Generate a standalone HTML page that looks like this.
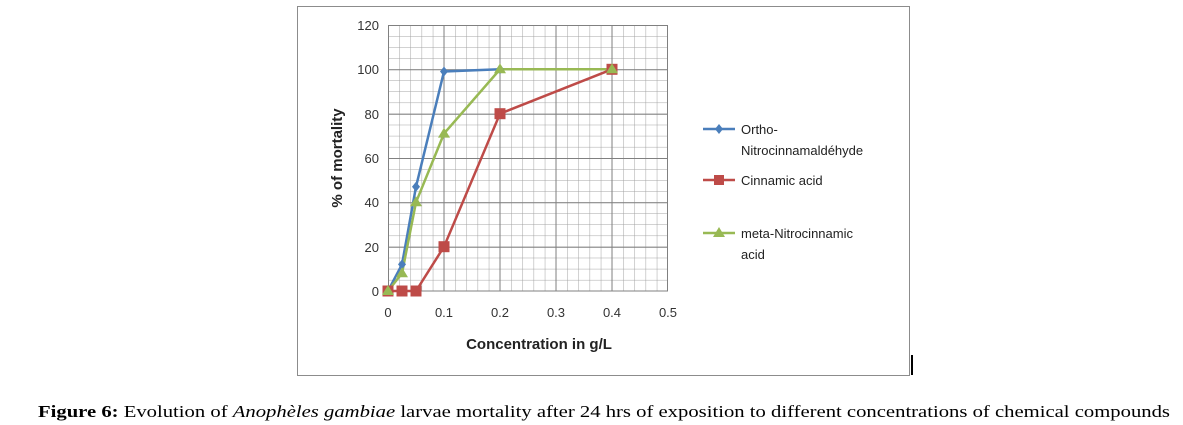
<!DOCTYPE html>
<html><head><meta charset="utf-8"><style>
body{margin:0;background:#fff;width:1183px;height:425px;overflow:hidden}
svg{display:block}
</style></head><body>
<svg width="1183" height="425" xmlns="http://www.w3.org/2000/svg" font-family="Liberation Sans, sans-serif">
<defs>
<pattern id="g" x="388" y="25" width="11.2" height="11.0833" patternUnits="userSpaceOnUse">
<path d="M0 0V11.0833M0 0H11.2" stroke="#a2a2a2" stroke-width="1" fill="none"/>
</pattern>
</defs>
<rect x="297.5" y="6.5" width="612" height="369" fill="#fff" stroke="#8c8c8c"/>
<rect x="911" y="355" width="2" height="20" fill="#000"/>
<rect x="388" y="25" width="280" height="266" fill="url(#g)"/>
<g stroke="#808080" stroke-width="1">
<path d="M388 25.5H668M388 69.8H668M388 114.2H668M388 158.5H668M388 202.8H668M388 247.2H668"/>
<path d="M444 25V291M500 25V291M556 25V291M612 25V291M667.5 25V291M388.5 25V291"/>
<path d="M388 291H668"/>
</g>
<g font-size="13" fill="#333" text-anchor="end">
<text x="379" y="30">120</text><text x="379" y="74">100</text><text x="379" y="119">80</text>
<text x="379" y="163">60</text><text x="379" y="207">40</text><text x="379" y="252">20</text><text x="379" y="296">0</text>
</g>
<g font-size="13" fill="#333" text-anchor="middle">
<text x="388" y="317">0</text><text x="444" y="317">0.1</text><text x="500" y="317">0.2</text>
<text x="556" y="317">0.3</text><text x="612" y="317">0.4</text><text x="668" y="317">0.5</text>
</g>
<text x="539" y="349" font-size="15" font-weight="bold" fill="#222" text-anchor="middle">Concentration in g/L</text>
<text transform="translate(342 158) rotate(-90)" font-size="15" font-weight="bold" fill="#222" text-anchor="middle">% of mortality</text>
<polyline points="388,291 402,264.4 416,186.8 444,71.5 500,69.3 612,69.3" fill="none" stroke="#4a7ebb" stroke-width="2.5"/>
<polyline points="388,291 402,291 416,291 444,246.7 500,113.7 612,69.3" fill="none" stroke="#be4b48" stroke-width="2.5"/>
<polyline points="388,291 402,273.3 416,202.3 444,133.6 500,69.3 612,69.3" fill="none" stroke="#98b954" stroke-width="2.5"/>
<g fill="#4a7ebb">
<path d="M388 286l4 5-4 5-4-5z"/><path d="M402 259.4l4 5-4 5-4-5z"/><path d="M416 181.8l4 5-4 5-4-5z"/><path d="M444 66.5l4 5-4 5-4-5z"/><path d="M500 64.3l4 5-4 5-4-5z"/>
</g>
<g fill="#be4b48">
<rect x="382.5" y="285.5" width="11" height="11"/><rect x="396.5" y="285.5" width="11" height="11"/><rect x="410.5" y="285.5" width="11" height="11"/>
<rect x="438.5" y="241.2" width="11" height="11"/><rect x="494.5" y="108.2" width="11" height="11"/><rect x="606.5" y="63.8" width="11" height="11"/>
</g>
<g fill="#98b954">
<path d="M388 285l6 10h-12z"/><path d="M402 267.3l6 10h-12z"/><path d="M416 196.3l6 10h-12z"/><path d="M444 127.6l6 10h-12z"/><path d="M500 63.3l6 10h-12z"/><path d="M612 63.3l6 10h-12z"/>
</g>
<line x1="703" y1="129" x2="735" y2="129" stroke="#4a7ebb" stroke-width="2.5"/><path d="M719 124l4 5-4 5-4-5z" fill="#4a7ebb"/>
<line x1="703" y1="180" x2="735" y2="180" stroke="#be4b48" stroke-width="2.5"/><rect x="714" y="175" width="10" height="10" fill="#be4b48"/>
<line x1="703" y1="233" x2="735" y2="233" stroke="#98b954" stroke-width="2.5"/><path d="M719 227l6 10h-12z" fill="#98b954"/>
<g font-size="13" fill="#222">
<text x="741" y="134">Ortho-</text><text x="741" y="155">Nitrocinnamaldéhyde</text>
<text x="741" y="185">Cinnamic acid</text>
<text x="741" y="238">meta-Nitrocinnamic</text><text x="741" y="259">acid</text>
</g>
<text x="38" y="417" font-family="Liberation Serif, serif" font-size="16.5" fill="#000" textLength="1132" lengthAdjust="spacingAndGlyphs"><tspan font-weight="bold">Figure 6:</tspan> Evolution of <tspan font-style="italic">Anophèles gambiae</tspan> larvae mortality after 24 hrs of exposition to different concentrations of chemical compounds</text>
</svg>
</body></html>
